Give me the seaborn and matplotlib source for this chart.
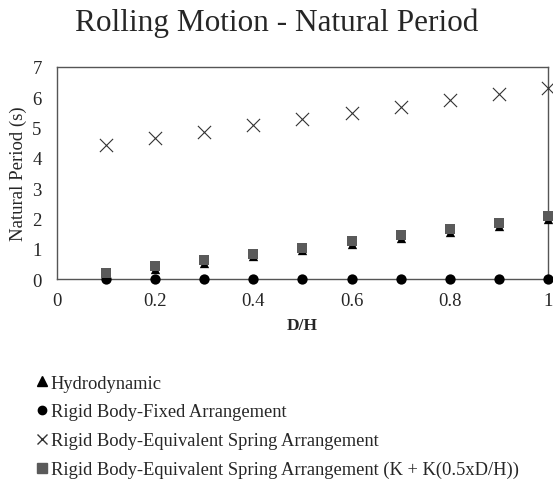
import numpy as np
import pandas as pd
import matplotlib.pyplot as plt
import seaborn as sns
from matplotlib.lines import Line2D

# data
d_h = [0.1, 0.2, 0.3, 0.4, 0.5, 0.6, 0.7, 0.8, 0.9, 1.0]
hydro = [0.15, 0.35, 0.55, 0.75, 0.95, 1.15, 1.37, 1.57, 1.77, 1.97]
fixed = [0, 0, 0, 0, 0, 0, 0, 0, 0, 0]
spring = [4.42, 4.65, 4.85, 5.08, 5.27, 5.48, 5.68, 5.90, 6.10, 6.32]
spring_k = [0.20, 0.42, 0.62, 0.83, 1.03, 1.25, 1.45, 1.67, 1.87, 2.10]

labels = ["Hydrodynamic",
          "Rigid Body-Fixed Arrangement",
          "Rigid Body-Equivalent Spring Arrangement",
          "Rigid Body-Equivalent Spring Arrangement (K + K(0.5xD/H))"]

df = pd.concat([
    pd.DataFrame({"D/H": d_h, "T": v, "series": lab})
    for v, lab in zip([hydro, fixed, spring, spring_k], labels)
])

sns.set_style("white")
plt.rcParams['font.family'] = ['Liberation Serif', 'DejaVu Serif']

fig = plt.figure(figsize=(5.53, 4.89), dpi=100)
ax = fig.add_axes([0.103, 0.427, 0.888, 0.434])

markers = {labels[0]: "^", labels[1]: "o", labels[2]: "x", labels[3]: "s"}
colors = {labels[0]: "black", labels[1]: "black", labels[2]: "#333333", labels[3]: "#5a5a5a"}
sizes = {labels[0]: 45, labels[1]: 55, labels[2]: 90, labels[3]: 60}

# draw in an order so squares sit over triangles like the original
for lab in [labels[1], labels[0], labels[3], labels[2]]:
    sub = df[df["series"] == lab]
    sns.scatterplot(data=sub, x="D/H", y="T", marker=markers[lab], color=colors[lab],
                    s=sizes[lab], linewidth=0.8 if lab == labels[2] else 0,
                    ax=ax, legend=False, clip_on=False, zorder=3)

ax.set_xlim(0, 1)
ax.set_ylim(0, 7)
ax.set_xticks([0, 0.2, 0.4, 0.6, 0.8, 1])
ax.set_xticklabels(["0", "0.2", "0.4", "0.6", "0.8", "1"])
ax.set_yticks(range(8))
ax.tick_params(labelsize=13.5, length=0, pad=9)
ax.tick_params(axis="y", pad=11)
ax.set_xlabel("D/H", fontsize=12.5, fontweight="bold", labelpad=6)
ax.set_ylabel("Natural Period (s)", fontsize=13.5, labelpad=4)
for sp in ax.spines.values():
    sp.set_color("#555555")
    sp.set_linewidth(1)

fig.suptitle("Rolling Motion - Natural Period", fontsize=22.5, x=0.5, y=0.982)

handles = [
    Line2D([], [], marker="^", color="black", linestyle="", markersize=7),
    Line2D([], [], marker="o", color="black", linestyle="", markersize=6),
    Line2D([], [], marker="x", color="#333333", linestyle="", markersize=7),
    Line2D([], [], marker="s", color="#5a5a5a", linestyle="", markersize=6.5),
]
fig.legend(handles, labels, loc="upper left", bbox_to_anchor=(0.053, 0.247),
           frameon=False, fontsize=13.3, handlelength=0.6, handletextpad=0.15,
           labelspacing=0.64, borderaxespad=0)

fig.savefig("out.png", dpi=100)
